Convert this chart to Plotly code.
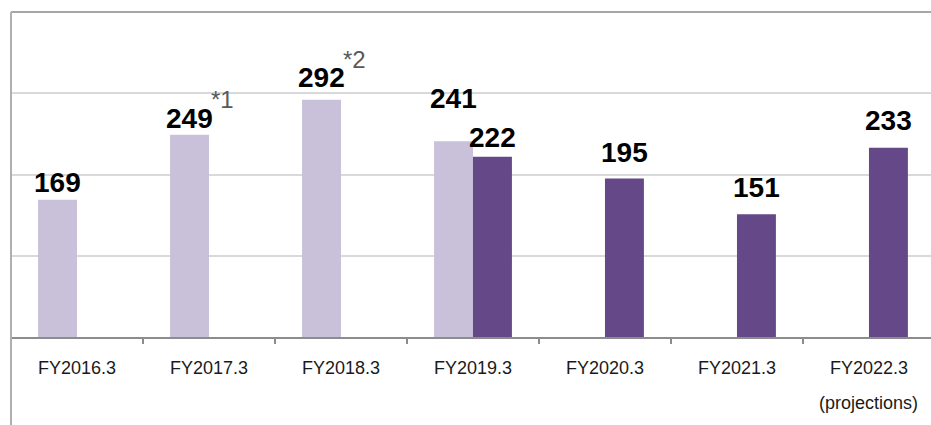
import plotly.graph_objects as go

categories = ["FY2016.3", "FY2017.3", "FY2018.3", "FY2019.3", "FY2020.3", "FY2021.3", "FY2022.3"]
old_standard = [169, 249, 292, 241, None, None, None]
new_standard = [None, None, None, 222, 195, 151, 233]
footnotes = {"FY2017.3": "*1", "FY2018.3": "*2"}
projection_note = "(projections)"

# style lists (pixel gaps between bar top and label baseline)
old_gap = [7, 6, 12, 32, 0, 0, 0]
new_gap = [0, 0, 0, 9, 16, 16, 17]
footnote_shift = {"FY2017.3": 20, "FY2018.3": 25}

LIGHT = "#c9c1d9"
DARK = "#644887"
FONT = "Liberation Sans, Arial, sans-serif"

fig = go.Figure()
fig.add_trace(go.Bar(x=categories, y=old_standard, marker=dict(color=LIGHT, line=dict(width=0)),
                     name="old", hoverinfo="x+y"))
fig.add_trace(go.Bar(x=categories, y=new_standard, marker=dict(color=DARK, line=dict(width=0)),
                     name="new", hoverinfo="x+y"))

annotations = []
half = 19.5
for i, c in enumerate(categories):
    for vals, gaps, sh in ((old_standard, old_gap, -half), (new_standard, new_gap, half)):
        v = vals[i]
        if v is None:
            continue
        annotations.append(dict(x=c, y=v, xref="x", yref="y", text=f"<b>{v}</b>", showarrow=False,
                                xanchor="center", yanchor="bottom", xshift=sh, yshift=gaps[i] - 7,
                                font=dict(family=FONT, size=28, color="#000000")))
    if c in footnotes:
        v = old_standard[i]
        annotations.append(dict(x=c, y=v, xref="x", yref="y", text=footnotes[c], showarrow=False,
                                xanchor="center", yanchor="bottom", xshift=-half + 33,
                                yshift=footnote_shift[c],
                                font=dict(family=FONT, size=24, color="#595959")))

annotations.append(dict(x=categories[-1], y=-0.203, xref="x", yref="paper", text=projection_note,
                        showarrow=False, xanchor="center", yanchor="middle",
                        font=dict(family=FONT, size=18, color="#1a1a1a")))

fig.update_layout(
    width=931, height=425,
    margin=dict(l=11, r=0, t=12, b=88),
    paper_bgcolor="white", plot_bgcolor="white",
    barmode="group", bargap=0.41, bargroupgap=0,
    showlegend=False,
    font=dict(family=FONT),
    xaxis=dict(type="category", range=[-0.5, 6.47], showline=True, linecolor="#8c8c8c", linewidth=1.5,
               ticks="outside", tickson="boundaries", ticklen=5, tickcolor="#8c8c8c", tickwidth=1.5,
               showgrid=False, tickfont=dict(family=FONT, size=18, color="#1a1a1a"),
               ticklabelstandoff=14),
    yaxis=dict(range=[0, 400], dtick=100, showgrid=True, gridcolor="#d9d9d9", gridwidth=1.5,
               showticklabels=False, zeroline=False, showline=False, ticks=""),
    annotations=annotations,
    shapes=[
        dict(type="line", xref="paper", yref="paper", x0=0, x1=1.02, y0=1, y1=1,
             line=dict(color="#a6a6a6", width=2)),
        dict(type="line", xref="paper", yref="paper", x0=0, x1=0, y0=-0.3, y1=1,
             line=dict(color="#b0b0b0", width=2)),
    ],
)

fig.write_html("out.html", config={"displayModeBar": False},
               post_script="document.body.style.margin='0';document.body.style.overflow='hidden';")
